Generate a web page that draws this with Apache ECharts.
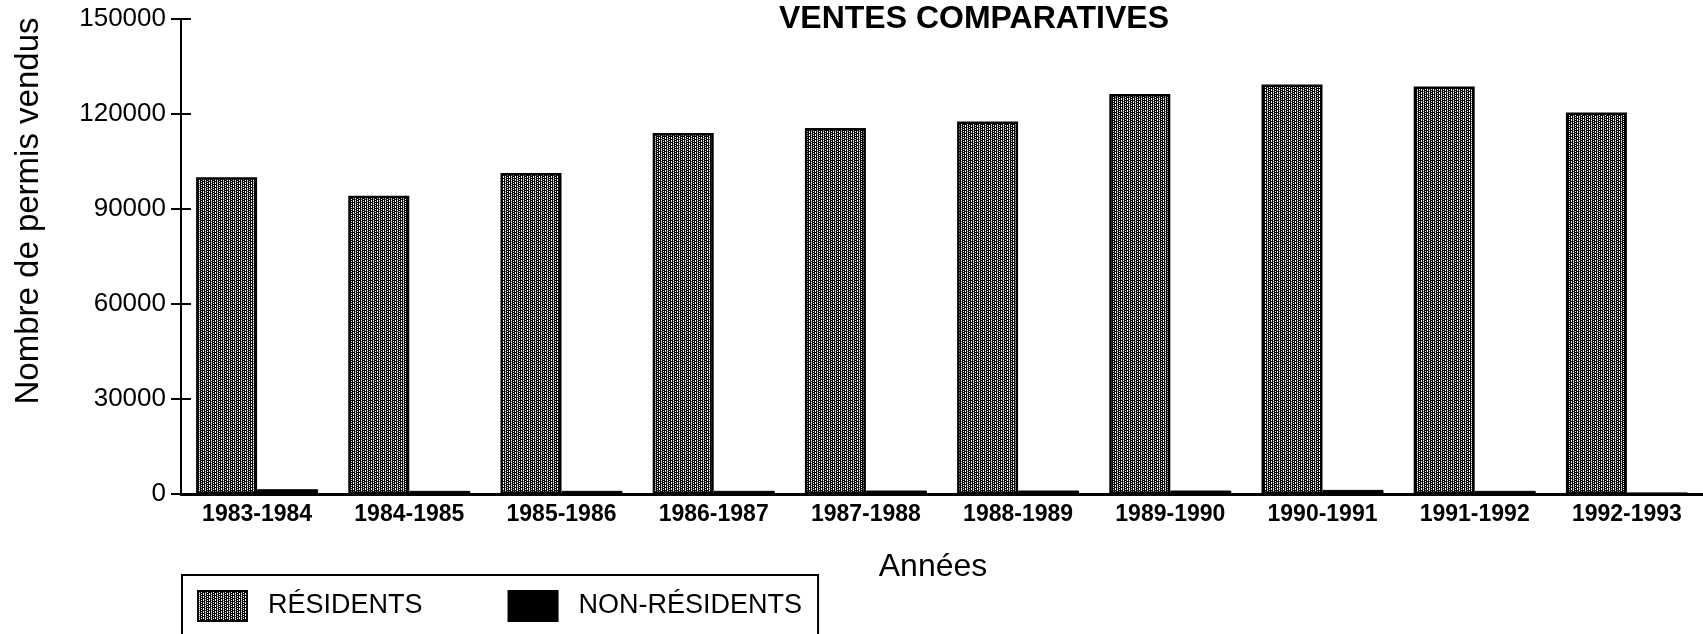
<!DOCTYPE html>
<html>
<head>
<meta charset="utf-8">
<script src="https://cdn.jsdelivr.net/npm/echarts@6/dist/echarts.min.js"></script>
<style>
html,body{margin:0;padding:0;background:#fff;}
#chart{width:1703px;height:634px;}
</style>
</head>
<body>
<div id="chart"></div>
<script>
// ---- data ----
const categories = ['1983-1984','1984-1985','1985-1986','1986-1987','1987-1988','1988-1989','1989-1990','1990-1991','1991-1992','1992-1993'];
const residents = [100000, 94200, 101400, 114000, 115600, 117600, 126300, 129300, 128700, 120500];
const nonResidents = [1500, 1000, 1000, 1000, 1100, 1100, 1100, 1300, 1000, 500];
const seriesNames = ['RÉSIDENTS', 'NON-RÉSIDENTS'];
const yMin = 0, yMax = 150000, yStep = 30000;
const titleText = 'VENTES COMPARATIVES';
const yTitle = 'Nombre de permis vendus';
const xTitle = 'Années';

// ---- halftone-like pattern for residents ----
function makePattern(){
  const n = 6;
  const c = document.createElement('canvas');
  c.width = n; c.height = n;
  const ctx = c.getContext('2d');
  ctx.fillStyle = '#fff'; ctx.fillRect(0,0,n,n);
  for (let x=0;x<n;x++){
    for (let y=0;y<n;y++){
      let dark = false;
      if (x===0 || x===2 || x===4) dark = true;
      if (x===3 && y%2===0) dark = true;
      if (x===5 && y%3===1) dark = true;
      if (dark){ ctx.fillStyle = '#000'; ctx.fillRect(x,y,1,1); }
      else if (x===1 && y%2===1){ ctx.fillStyle = '#777'; ctx.fillRect(x,y,1,1); }
    }
  }
  return c;
}
const pat = {image: makePattern(), repeat: 'repeat'};

const chart = echarts.init(document.getElementById('chart'), null, {renderer:'canvas'});
const font = 'Liberation Sans, Arial, Helvetica, sans-serif';

chart.setOption({
  animation: false,
  backgroundColor: '#fff',
  title: {
    text: titleText,
    left: 779, top: 3, padding: 0,
    textStyle: {fontFamily: font, fontWeight: 'bold', fontSize: 32, color: '#000'}
  },
  grid: {left: 181, top: 19, width: 1535, height: 475, containLabel: false},
  legend: {
    data: seriesNames,
    left: 182, top: 575,
    orient: 'horizontal',
    icon: 'rect',
    padding: [15, 16, 40, 15],
    itemWidth: 49, itemHeight: 30, itemGap: 85,
    borderColor: '#000', borderWidth: 2,
    selectedMode: false,
    textStyle: {fontFamily: font, fontSize: 27, color: '#000', padding: [0,0,0,16]}
  },
  xAxis: {
    type: 'category',
    data: categories,
    axisLine: {show: true, lineStyle: {color: '#000', width: 3}},
    axisTick: {show: false},
    axisLabel: {fontFamily: font, fontWeight: 'bold', fontSize: 23, color: '#000', margin: 9, interval: 0}
  },
  yAxis: [
    {
      type: 'value', min: yMin, max: yMax, interval: yStep,
      axisLine: {show: true, lineStyle: {color: '#000', width: 2}},
      axisTick: {show: true, inside: false, length: 10, lineStyle: {color: '#000', width: 2}},
      axisLabel: {fontFamily: font, fontSize: 26, color: '#000', margin: 15, formatter: function(v){ return String(v); }},
      splitLine: {show: false}
    },
    {
      type: 'value', min: yMin, max: yMax, interval: yStep, position: 'left',
      axisLine: {show: true, lineStyle: {color: '#000', width: 2}},
      axisTick: {show: true, inside: true, length: 10, lineStyle: {color: '#000', width: 2}},
      axisLabel: {show: false},
      splitLine: {show: false}
    }
  ],
  series: [
    {
      name: seriesNames[0], type: 'bar', data: residents, yAxisIndex: 0,
      barWidth: 61, barGap: '0%',
      itemStyle: {color: pat, borderColor: '#000', borderWidth: 2.5}
    },
    {
      name: seriesNames[1], type: 'bar', data: nonResidents, yAxisIndex: 0,
      barWidth: 61,
      itemStyle: {color: '#000', borderColor: '#000', borderWidth: 1}
    }
  ],
  graphic: [
    {
      type: 'text', x: 29, y: 211, rotation: Math.PI/2,
      style: {text: yTitle, fontFamily: font, fontSize: 33, fill: '#000', textAlign: 'center', textVerticalAlign: 'middle'}
    },
    {
      type: 'text', x: 933, y: 567,
      style: {text: xTitle, fontFamily: font, fontSize: 32, fill: '#000', textAlign: 'center', textVerticalAlign: 'middle'}
    }
  ]
});
</script>
</body>
</html>
